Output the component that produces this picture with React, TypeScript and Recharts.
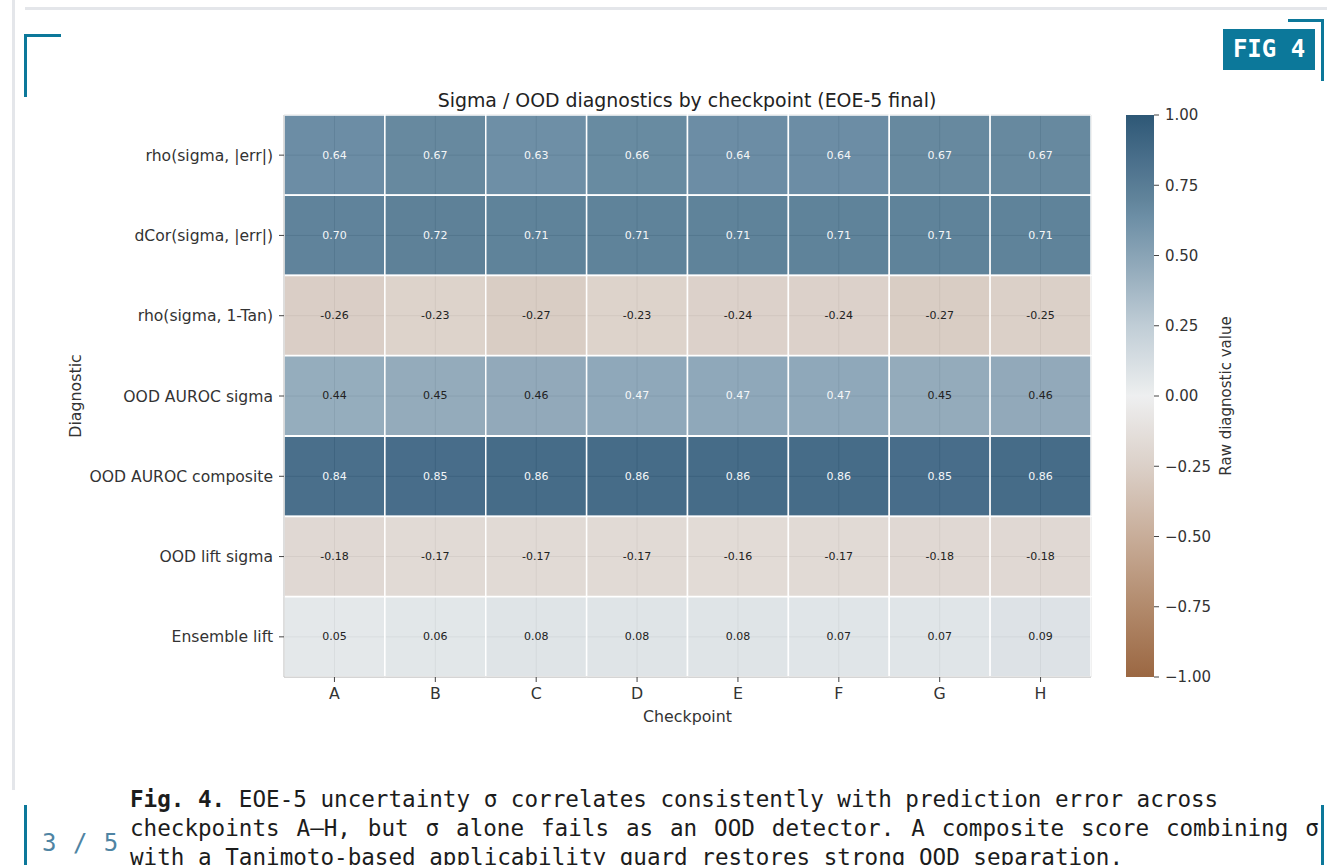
import React from 'react';
import {
  BarChart,
  Bar,
  Cell,
  XAxis,
  YAxis,
  CartesianGrid,
  LabelList,
} from 'recharts';

// checkpoints along the x axis
const CHECKPOINTS = ['A', 'B', 'C', 'D', 'E', 'F', 'G', 'H'];

// diagnostics, top to bottom
const DIAGNOSTICS = [
  'rho(sigma, |err|)',
  'dCor(sigma, |err|)',
  'rho(sigma, 1-Tan)',
  'OOD AUROC sigma',
  'OOD AUROC composite',
  'OOD lift sigma',
  'Ensemble lift',
];

// one value list per diagnostic, in checkpoint order
const RHO_ERR = [0.64, 0.67, 0.63, 0.66, 0.64, 0.64, 0.67, 0.67];
const DCOR_ERR = [0.70, 0.72, 0.71, 0.71, 0.71, 0.71, 0.71, 0.71];
const RHO_TAN = [-0.26, -0.23, -0.27, -0.23, -0.24, -0.24, -0.27, -0.25];
const AUROC_SIGMA = [0.44, 0.45, 0.46, 0.47, 0.47, 0.47, 0.45, 0.46];
const AUROC_COMPOSITE = [0.84, 0.85, 0.86, 0.86, 0.86, 0.86, 0.85, 0.86];
const LIFT_SIGMA = [-0.18, -0.17, -0.17, -0.17, -0.16, -0.17, -0.18, -0.18];
const ENSEMBLE_LIFT = [0.05, 0.06, 0.08, 0.08, 0.08, 0.07, 0.07, 0.09];

const VALUES = [RHO_ERR, DCOR_ERR, RHO_TAN, AUROC_SIGMA, AUROC_COMPOSITE, LIFT_SIGMA, ENSEMBLE_LIFT];

const CBAR_TICKS = [-1, -0.75, -0.5, -0.25, 0, 0.25, 0.5, 0.75, 1];

const rows = DIAGNOSTICS.map((name, i) => {
  const row: Record<string, any> = { name };
  CHECKPOINTS.forEach((c, j) => (row[c] = VALUES[i][j]));
  return row;
});

// brown -> white -> blue diverging map (apparent colours)
const CMAP: [number, number[]][] = [
  [-1.0, [155, 103, 66]],
  [-0.75, [178, 138, 108]],
  [-0.5, [200, 173, 153]],
  [-0.25, [219, 208, 200]],
  [0.0, [238, 239, 240]],
  [0.05, [228, 232, 234]],
  [0.25, [192, 205, 214]],
  [0.44, [150, 173, 189]],
  [0.64, [108, 142, 165]],
  [0.7, [97, 132, 155]],
  [0.84, [74, 111, 139]],
  [1.0, [46, 88, 118]],
];

const rgbAt = (v: number) => {
  if (v <= CMAP[0][0]) return CMAP[0][1];
  for (let i = 1; i < CMAP.length; i++) {
    const [v1, c1] = CMAP[i];
    const [v0, c0] = CMAP[i - 1];
    if (v <= v1) {
      const t = (v - v0) / (v1 - v0);
      return c0.map((c, k) => c + (c1[k] - c) * t);
    }
  }
  return CMAP[CMAP.length - 1][1];
};
const hex = (c: number[]) =>
  '#' + c.map((x) => Math.max(0, Math.min(255, Math.round(x))).toString(16).padStart(2, '0')).join('');

const CELL_ALPHA = 0.9;
// cells are drawn slightly see-through so the grid shows, undo that for the fill
const cellFill = (v: number) => hex(rgbAt(v).map((x) => (x - 255 * (1 - CELL_ALPHA)) / CELL_ALPHA));

const TEAL = '#0c789a';
const SANS = '"DejaVu Sans", sans-serif';
const MONO = '"DejaVu Sans Mono", monospace';

const fmtCbar = (v: number) => (v < 0 ? '\u2212' : '') + Math.abs(v).toFixed(2);

const Heatmap = () => (
  <BarChart
    width={1120}
    height={760}
    data={rows}
    layout="vertical"
    barCategoryGap={0}
    margin={{ top: 115, right: 29, bottom: 33, left: 40 }}
  >
    <CartesianGrid stroke="#8a8a8a" strokeWidth={1} />
    <XAxis
      type="number"
      domain={[0, 8]}
      ticks={[0.5, 1.5, 2.5, 3.5, 4.5, 5.5, 6.5, 7.5]}
      tickFormatter={(v: number) => CHECKPOINTS[Math.floor(v)]}
      height={50}
      stroke="#c8c8c8"
      tickLine={{ stroke: '#444' }}
      tickSize={5}
      tickMargin={6}
      tick={{ fill: '#333', fontSize: 15.8, fontFamily: SANS }}
      label={({ viewBox }: any) => (
        <text x={viewBox.x + viewBox.width / 2} y={viewBox.y + 45} textAnchor="middle" fill="#333" fontSize={15.8} fontFamily={SANS}>
          Checkpoint
        </text>
      )}
    />
    <YAxis
      type="category"
      dataKey="name"
      width={244}
      stroke="#c8c8c8"
      tickLine={{ stroke: '#444' }}
      tickSize={5}
      tickMargin={6}
      tick={{ fill: '#333', fontSize: 15.6, fontFamily: SANS }}
      label={({ viewBox }: any) => (
        <text
          x={75}
          y={viewBox.y + viewBox.height / 2}
          textAnchor="middle"
          dominantBaseline="central"
          transform={`rotate(-90 75 ${viewBox.y + viewBox.height / 2})`}
          fill="#333"
          fontSize={15.8}
          fontFamily={SANS}
        >
          Diagnostic
        </text>
      )}
    />
    {CHECKPOINTS.map((c) => (
      <Bar
        key={c}
        dataKey={() => 1}
        stackId="cells"
        isAnimationActive={false}
        stroke="#ffffff"
        strokeWidth={1.5}
        fillOpacity={CELL_ALPHA}
      >
        {rows.map((r, i) => (
          <Cell key={i} fill={cellFill(r[c])} />
        ))}
        <LabelList
          dataKey={c}
          content={(p: any) => {
            const v = typeof p.value === 'number' ? p.value : rows[p.index]?.[c];
            return (
              <text
                x={p.x + p.width / 2}
                y={p.y + p.height / 2}
                textAnchor="middle"
                dominantBaseline="central"
                fill={v >= 0.465 ? '#f4f6f8' : '#222'}
                fontSize={11}
                fontFamily={SANS}
              >
                {v.toFixed(2)}
              </text>
            );
          }}
        />
      </Bar>
    ))}
  </BarChart>
);

const Colorbar = () => (
  <BarChart
    width={200}
    height={865}
    data={[{ k: 'cbar', range: [-1, 1] }]}
    barCategoryGap={0}
    margin={{ top: 115, right: 0, bottom: 188, left: 26 }}
  >
    <defs>
      <linearGradient id="cbGrad" x1="0" y1="0" x2="0" y2="1">
        {CMAP.slice()
          .reverse()
          .map(([v, c]) => (
            <stop key={v} offset={`${((1 - v) / 2) * 100}%`} stopColor={hex(c)} />
          ))}
      </linearGradient>
    </defs>
    <XAxis dataKey="k" hide />
    <YAxis
      type="number"
      orientation="right"
      domain={[-1, 1]}
      ticks={CBAR_TICKS}
      tickFormatter={fmtCbar}
      width={146}
      axisLine={false}
      tickLine={{ stroke: '#444' }}
      tickSize={5}
      tickMargin={6}
      tick={{ fill: '#333', fontSize: 15, fontFamily: SANS }}
      label={({ viewBox }: any) => {
        const cx = viewBox.x + 72;
        const cy = viewBox.y + viewBox.height / 2;
        return (
          <text x={cx} y={cy} textAnchor="middle" dominantBaseline="central" transform={`rotate(-90 ${cx} ${cy})`} fill="#333" fontSize={15} fontFamily={SANS}>
            Raw diagnostic value
          </text>
        );
      }}
    />
    <Bar dataKey="range" fill="url(#cbGrad)" isAnimationActive={false} />
  </BarChart>
);

const abs = (s: React.CSSProperties): React.CSSProperties => ({ position: 'absolute', ...s });

export default function App() {
  return (
    <div style={abs({ left: 0, top: 0, width: 1336, height: 865, background: '#fff', overflow: 'hidden' })}>
      {/* page frame */}
      <div style={abs({ left: 12, top: 0, width: 3, height: 790, background: '#e4e6ea' })} />
      <div style={abs({ left: 25, top: 7, width: 1302, height: 3, background: '#e4e6ea' })} />
      <div style={abs({ left: 24, top: 34, width: 37, height: 3, background: TEAL })} />
      <div style={abs({ left: 24, top: 34, width: 3, height: 63, background: TEAL })} />
      <div style={abs({ left: 1288, top: 19, width: 36, height: 3, background: TEAL })} />
      <div style={abs({ left: 1321, top: 19, width: 3, height: 62, background: TEAL })} />
      <div
        style={abs({
          left: 1223,
          top: 29,
          width: 92,
          height: 41,
          background: TEAL,
          color: '#fff',
          fontFamily: MONO,
          fontWeight: 'bold',
          fontSize: 24,
          lineHeight: '41px',
          textAlign: 'center',
        })}
      >
        FIG 4
      </div>

      {/* chart */}
      <div
        style={abs({
          left: 387,
          top: 88,
          width: 600,
          textAlign: 'center',
          fontFamily: SANS,
          fontSize: 18.9,
          lineHeight: '24px',
          color: '#222',
        })}
      >
        Sigma / OOD diagnostics by checkpoint (EOE-5 final)
      </div>
      <div style={abs({ left: 0, top: 0 })}>
        <Heatmap />
      </div>
      <div style={abs({ left: 1100, top: 0 })}>
        <Colorbar />
      </div>

      {/* caption */}
      <div style={abs({ left: 24, top: 805, width: 3, height: 60, background: TEAL })} />
      <div style={abs({ left: 1321, top: 805, width: 3, height: 60, background: TEAL })} />
      <div style={abs({ left: 42, top: 828, fontFamily: MONO, fontSize: 24, lineHeight: '30px', letterSpacing: 1, color: '#4f84a3' })}>3 / 5</div>
      <div
        style={abs({
          left: 130,
          top: 785,
          width: 1190,
          fontFamily: MONO,
          fontSize: 22.6,
          lineHeight: '29px',
          color: '#1c1c1c',
          whiteSpace: 'pre',
        })}
      >
        <b>Fig. 4.</b> EOE-5 uncertainty σ correlates consistently with prediction error across
        <br />
        <span style={{ wordSpacing: 3.3 }}>
          checkpoints A–H, but σ alone fails as an OOD detector. A composite score combining σ
        </span>
        <br />
        with a Tanimoto-based applicability guard restores strong OOD separation.
      </div>
    </div>
  );
}
